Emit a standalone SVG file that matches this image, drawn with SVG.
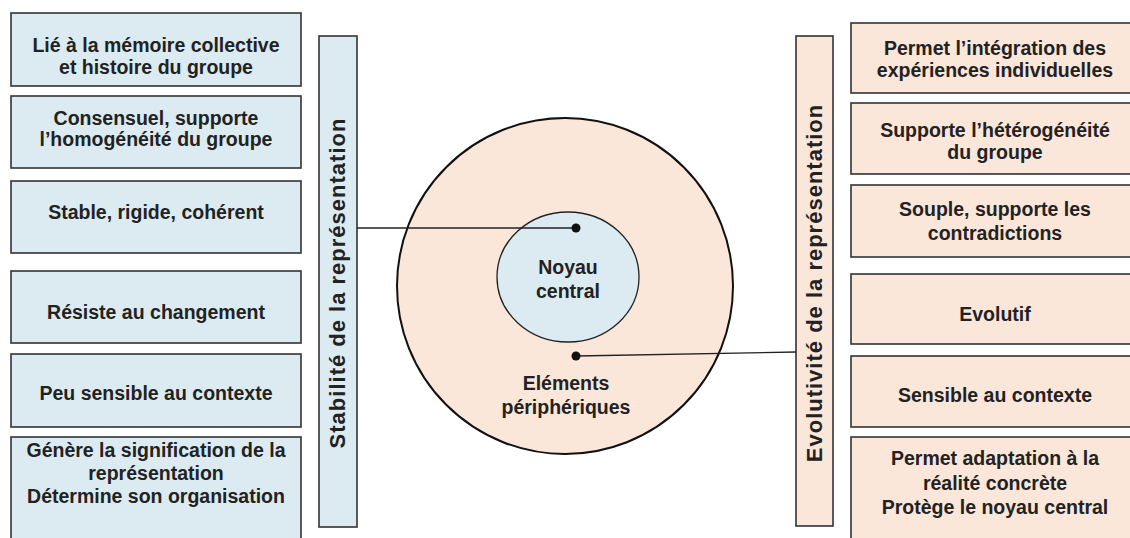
<svg xmlns="http://www.w3.org/2000/svg" width="1130" height="538" viewBox="0 0 1130 538">
<style>
.b{fill:#dcebf1;stroke:#333;stroke-width:1.6}
.p{fill:#fbe6da;stroke:#333;stroke-width:1.6}
text{font-family:"Liberation Sans",Arial,sans-serif;font-weight:bold;font-size:19.5px;fill:#222;text-anchor:middle}
.bar{font-size:22px;letter-spacing:1px}
.c{stroke:#222;stroke-width:1.4;fill:none}
</style>
<rect width="1130" height="538" fill="#fff"/>
<g id="left-boxes">
<g id="l1"><rect class="b" x="11" y="13" width="290" height="73"/><text x="156" y="52">Lié à la mémoire collective</text><text x="156" y="74">et histoire du groupe</text></g>
<g id="l2"><rect class="b" x="11" y="96" width="290" height="72"/><text x="156" y="125">Consensuel, supporte</text><text x="156" y="146">l’homogénéité du groupe</text></g>
<g id="l3"><rect class="b" x="11" y="181" width="290" height="72"/><text x="156" y="219">Stable, rigide, cohérent</text></g>
<g id="l4"><rect class="b" x="11" y="271" width="290" height="72"/><text x="156" y="319">Résiste au changement</text></g>
<g id="l5"><rect class="b" x="11" y="354" width="290" height="73"/><text x="156" y="400">Peu sensible au contexte</text></g>
<g id="l6"><rect class="b" x="11" y="437" width="290" height="110"/><text x="156" y="457">Génère la signification de la</text><text x="156" y="480">représentation</text><text x="156" y="503">Détermine son organisation</text></g>
</g>
<g id="left-bar"><rect class="b" x="319" y="36" width="38" height="491"/><text class="bar" transform="translate(345 283) rotate(-90)">Stabilité de la représentation</text></g>
<g id="right-bar"><rect class="p" x="796" y="36" width="37" height="490"/><text class="bar" transform="translate(822 283) rotate(-90)">Evolutivité de la représentation</text></g>
<g id="right-boxes">
<g id="r1"><rect class="p" x="851" y="23" width="290" height="70"/><text x="995" y="55">Permet l’intégration des</text><text x="995" y="77">expériences individuelles</text></g>
<g id="r2"><rect class="p" x="851" y="103" width="290" height="71"/><text x="995" y="137">Supporte l’hétérogénéité</text><text x="995" y="159">du groupe</text></g>
<g id="r3"><rect class="p" x="851" y="185" width="290" height="72"/><text x="995" y="216">Souple, supporte les</text><text x="995" y="240">contradictions</text></g>
<g id="r4"><rect class="p" x="851" y="274" width="290" height="70"/><text x="995" y="321">Evolutif</text></g>
<g id="r5"><rect class="p" x="851" y="356" width="290" height="71"/><text x="995" y="402">Sensible au contexte</text></g>
<g id="r6"><rect class="p" x="851" y="437" width="290" height="110"/><text x="995" y="465">Permet adaptation à la</text><text x="995" y="490">réalité concrète</text><text x="995" y="514">Protège le noyau central</text></g>
</g>
<g id="peripheral"><circle cx="565" cy="286" r="168" fill="#fbe6da" stroke="#111" stroke-width="2"/><text x="566" y="390">Eléments</text><text x="566" y="414">périphériques</text></g>
<g id="core"><ellipse cx="568" cy="277" rx="71" ry="65" fill="#dcebf1" stroke="#222" stroke-width="1.3"/><text x="568" y="274">Noyau</text><text x="568" y="298">central</text></g>
<g id="connectors">
<line class="c" x1="357" y1="228" x2="576" y2="228"/>
<circle cx="576" cy="228" r="4.5" fill="#111"/>
<line class="c" x1="576" y1="356" x2="796" y2="352"/>
<circle cx="576" cy="356" r="4.5" fill="#111"/>
</g>
</svg>
